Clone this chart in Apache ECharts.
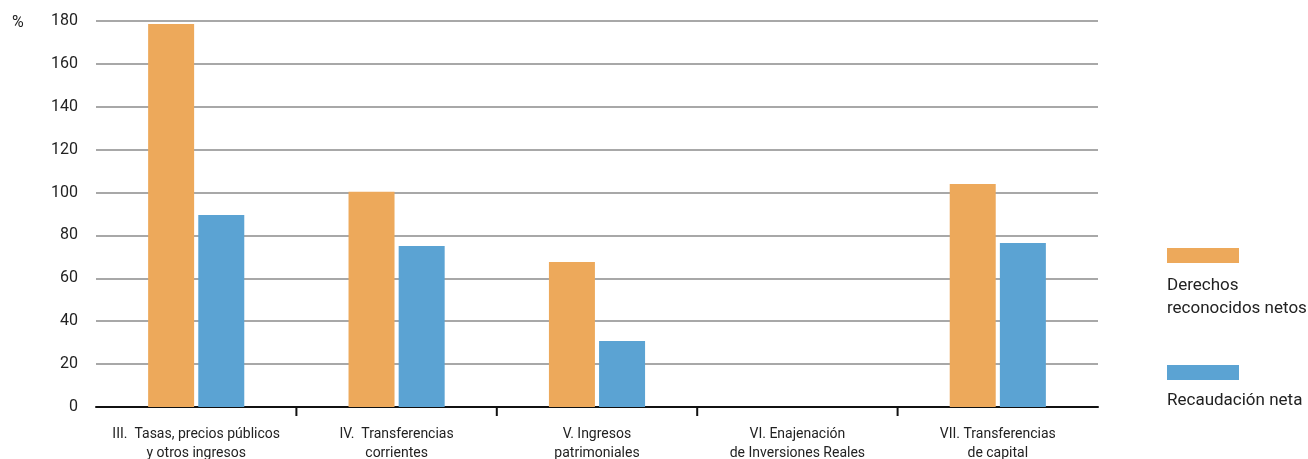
<!DOCTYPE html>
<html><head><meta charset="utf-8">
<script src="https://cdn.jsdelivr.net/npm/echarts@6/dist/echarts.min.js"></script>
<style>html,body{margin:0;padding:0;background:#fff}#c{width:1308px;height:459px}</style>
</head><body><div id="c"></div>
<script>
const categories = [
  "III.  Tasas, precios públicos\ny otros ingresos",
  "IV.  Transferencias\ncorrientes",
  "V. Ingresos\npatrimoniales",
  "VI. Enajenación\nde Inversiones Reales",
  "VII. Transferencias\nde capital"
];
const derechos = [178.6, 100.4, 67.6, null, 104.0];
const recaudacion = [89.5, 75.1, 30.8, null, 76.5];
const seriesNames = ["Derechos reconocidos netos", "Recaudación neta"];
// category indices whose left boundary carries a tick mark
const tickBoundaries = [1, 2, 3, 4];
const colors = ["#EDA95B", "#5BA3D3"];
const FONT = "Roboto";

const chart = echarts.init(document.getElementById('c'), null, {renderer: 'canvas'});
chart.setOption({
  animation: false,
  textStyle: {fontFamily: FONT},
  title: {text: '%', left: 7, top: 10, textStyle: {fontFamily: FONT, fontSize: 16, fontWeight: 'normal', color: '#222'}},
  grid: {left: 96, right: 210, top: 21, bottom: 52, containLabel: false, outerBoundsMode: 'none'},
  legend: [
    {data: [seriesNames[0]], left: 1162, top: 248, padding: 0, orient: 'vertical', itemWidth: 0, itemHeight: 0, icon: 'rect',
     formatter: n => '{b|}\n{s| }\n{t|Derechos}\n{t|reconocidos netos}',
     textStyle: {rich: {b: {width: 72, height: 15, backgroundColor: colors[0]}, s: {fontSize: 8, lineHeight: 11}, t: {fontFamily: FONT, fontSize: 17, lineHeight: 23, color: '#222'}}}},
    {data: [seriesNames[1]], left: 1162, top: 365, padding: 0, orient: 'vertical', itemWidth: 0, itemHeight: 0, icon: 'rect',
     formatter: n => '{b|}\n{s| }\n{t|Recaudación neta}',
     textStyle: {rich: {b: {width: 72, height: 15, backgroundColor: colors[1]}, s: {fontSize: 8, lineHeight: 9}, t: {fontFamily: FONT, fontSize: 17, lineHeight: 23, color: '#222'}}}}
  ],
  xAxis: {
    type: 'category', data: categories,
    axisLine: {lineStyle: {color: '#111', width: 2}},
    axisTick: {show: false},
    axisLabel: {fontFamily: FONT, fontSize: 14, lineHeight: 19, color: '#222', margin: 18, interval: 0}
  },
  yAxis: {
    type: 'value', min: 0, max: 180, interval: 20,
    axisLine: {show: false}, axisTick: {show: false},
    axisLabel: {fontFamily: FONT, fontSize: 16, color: '#222', margin: 18},
    splitLine: {lineStyle: {color: '#A8A8A8', width: 2}}
  },
  series: [
    {name: seriesNames[0], type: 'bar', data: derechos, barWidth: 46, barGap: '9%', itemStyle: {color: colors[0]}},
    {name: seriesNames[1], type: 'bar', data: recaudacion, barWidth: 46, barGap: '9%', itemStyle: {color: colors[1]}},
    {type: 'custom', clip: false, silent: true, z: 5, data: tickBoundaries.map(i => [i, 0]),
     encode: {x: 0, y: 1},
     renderItem: (params, api) => {
       const p = api.coord([api.value(0), 0]);
       const w = api.size([1, 0])[0];
       const x = p[0] - w / 2;
       return {type: 'line', shape: {x1: x, y1: p[1], x2: x, y2: p[1] + 9}, style: {stroke: '#111', lineWidth: 2}};
     }}
  ]
});
</script></body></html>
